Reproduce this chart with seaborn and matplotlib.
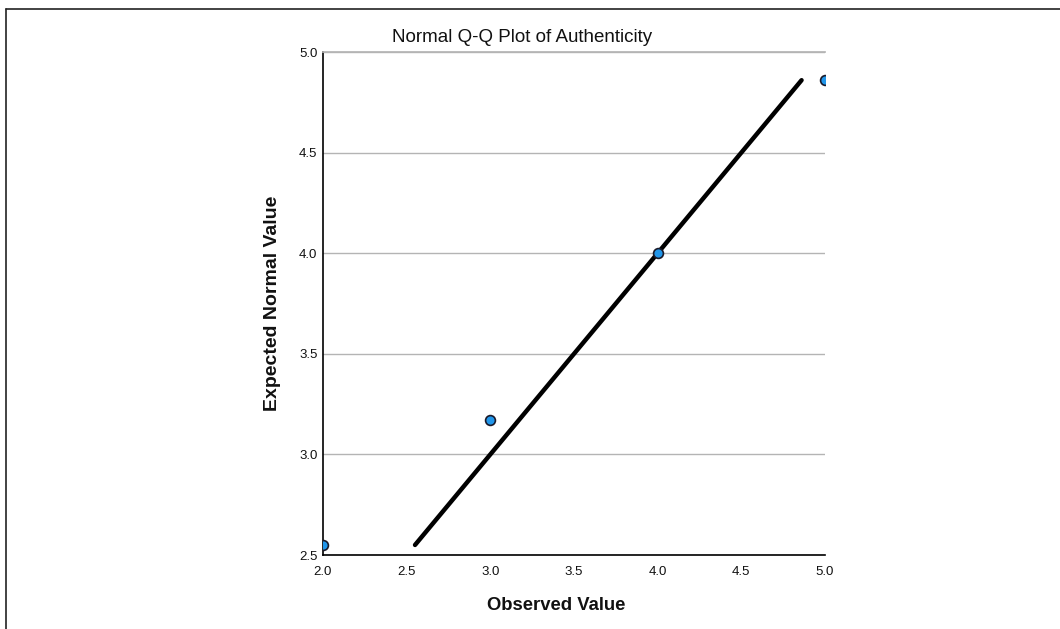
import matplotlib
matplotlib.use("Agg")
import matplotlib.pyplot as plt
import seaborn as sns
import pandas as pd
from matplotlib.lines import Line2D

observed = [2.0, 3.0, 4.0, 5.0]
expected = [2.55, 3.17, 4.00, 4.86]
x_ticks = [2.0, 2.5, 3.0, 3.5, 4.0, 4.5, 5.0]
y_ticks = [2.5, 3.0, 3.5, 4.0, 4.5, 5.0]

sns.set_theme(style="white")
plt.rcParams['font.family'] = ['Liberation Sans', 'DejaVu Sans']

df = pd.DataFrame({"Observed Value": observed, "Expected Normal Value": expected})
line_lo, line_hi = min(expected), max(expected)
ref = pd.DataFrame({"x": [line_lo, line_hi], "y": [line_lo, line_hi]})

fig = plt.figure(figsize=(10.6, 6.29), dpi=100)
ax = fig.add_axes([0.3047, 0.1176, 0.4736, 0.7997])

ax.set_xlim(2.0, 5.0)
ax.set_ylim(2.5, 5.0)
ax.set_yticks(y_ticks)
ax.set_xticks(x_ticks)
ax.set_yticklabels([f"{v:.1f}" for v in y_ticks], fontsize=9.5, color="#111111")
ax.set_xticklabels([f"{v:.1f}" for v in x_ticks], fontsize=9.5, color="#111111")
ax.grid(axis="y", color="#b4b4b4", linewidth=1)
ax.set_axisbelow(True)
ax.tick_params(axis="x", length=0, pad=8)
ax.tick_params(axis="y", length=0, pad=4)

sns.lineplot(data=ref, x="x", y="y", ax=ax, color="black", linewidth=3.2, zorder=3)
sns.scatterplot(data=df, x="Observed Value", y="Expected Normal Value", ax=ax,
                s=50, color="#2196ea", edgecolor="#1a1a2a", linewidth=1.2, zorder=4)

ax.spines["right"].set_visible(False)
ax.spines["top"].set_color("#b4b4b4")
ax.spines["left"].set_color("black")
ax.spines["bottom"].set_color("black")
for s in ["left", "bottom"]:
    ax.spines[s].set_linewidth(1.2)

ax.set_xlabel("Observed Value", fontsize=13.3, fontweight="bold", color="#111111",
              va="center")
ax.xaxis.set_label_coords(0.464, -0.101)
ax.set_ylabel("Expected Normal Value", fontsize=14, fontweight="bold", color="#111111",
              va="center")
ax.yaxis.set_label_coords(-0.10, 0.50)

fig.text(522 / 1060, 1 - 38 / 629, "Normal Q-Q Plot of Authenticity", fontsize=13.5,
         ha="center", va="center", color="#111111")

# outer frame (left & top edges visible)
fig.add_artist(Line2D([6/1060, 6/1060], [0, 1 - 9/629], transform=fig.transFigure,
                      color="#222222", linewidth=1.2))
fig.add_artist(Line2D([6/1060, 1], [1 - 9/629, 1 - 9/629], transform=fig.transFigure,
                      color="#222222", linewidth=1.2))

fig.savefig("out.png", dpi=100)
